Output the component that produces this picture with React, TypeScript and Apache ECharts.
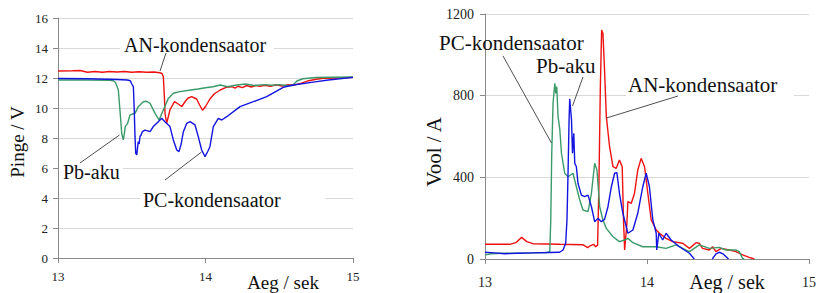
import React, { useEffect, useRef } from "react";
import * as echarts from "echarts";

// Time axis (s) and value ranges
const timeMin = 13;
const timeMax = 15;
const voltMax = 16;
const voltStep = 2;
const currentMax = 1200;
const currentStep = 400;

// Left chart: voltage (V) vs time (s)
const voltAN: [number, number][] = [
  [13.0, 12.47], [13.1, 12.48], [13.15, 12.5], [13.2, 12.38], [13.25, 12.43], [13.3, 12.38],
  [13.35, 12.43], [13.4, 12.4], [13.45, 12.43], [13.5, 12.38], [13.55, 12.42], [13.6, 12.38],
  [13.65, 12.4], [13.69, 12.35], [13.705, 12.3], [13.714, 12.1], [13.72, 11.0], [13.726, 9.6],
  [13.737, 9.0], [13.745, 9.3], [13.76, 9.9], [13.79, 10.42], [13.81, 10.3], [13.839, 10.1],
  [13.86, 10.4], [13.88, 10.65], [13.906, 10.76], [13.94, 10.6], [13.96, 10.2], [13.98, 9.85],
  [14.0, 10.1], [14.03, 10.6], [14.06, 10.95], [14.1, 11.2], [14.14, 11.38], [14.18, 11.42],
  [14.2, 11.33], [14.22, 11.45], [14.25, 11.36], [14.28, 11.5], [14.31, 11.4], [14.34, 11.5],
  [14.37, 11.44], [14.4, 11.52], [14.44, 11.45], [14.48, 11.55], [14.52, 11.47], [14.56, 11.55],
  [14.6, 11.52], [14.65, 11.66], [14.7, 11.82], [14.75, 11.92], [14.8, 11.98], [14.9, 12.0],
  [15.0, 12.04],
];
const voltPC: [number, number][] = [
  [13.0, 11.87], [13.2, 11.87], [13.35, 11.85], [13.375, 11.82], [13.39, 11.7], [13.398, 11.5],
  [13.409, 11.2], [13.42, 9.87], [13.432, 8.3], [13.443, 7.87], [13.45, 8.3], [13.456, 8.76],
  [13.472, 8.98], [13.488, 9.53], [13.505, 9.6], [13.522, 9.64], [13.544, 10.09], [13.578, 10.42],
  [13.6, 10.45], [13.624, 10.31], [13.658, 9.64], [13.685, 9.2], [13.714, 9.87], [13.748, 10.64],
  [13.782, 10.98], [13.827, 11.09], [13.9, 11.2], [13.95, 11.27], [14.0, 11.35], [14.05, 11.42],
  [14.1, 11.53], [14.15, 11.42], [14.2, 11.52], [14.27, 11.6], [14.33, 11.5], [14.4, 11.56],
  [14.45, 11.52], [14.5, 11.56], [14.55, 11.5], [14.59, 11.5], [14.62, 11.8], [14.66, 11.95],
  [14.75, 12.03], [14.85, 12.05], [15.0, 12.07],
];
const voltPb: [number, number][] = [
  [13.0, 11.97], [13.2, 11.95], [13.4, 11.9], [13.47, 11.87], [13.49, 11.82], [13.5, 11.6],
  [13.511, 11.42], [13.517, 9.87], [13.522, 8.09], [13.527, 6.98], [13.534, 6.87], [13.544, 7.76],
  [13.55, 7.6], [13.556, 8.1], [13.563, 8.2], [13.572, 8.42], [13.59, 8.53], [13.624, 8.42],
  [13.646, 8.76], [13.68, 9.09], [13.703, 9.31], [13.725, 9.09], [13.759, 8.76], [13.782, 7.87],
  [13.805, 7.2], [13.82, 7.09], [13.835, 7.6], [13.85, 8.42], [13.873, 8.98], [13.895, 9.09],
  [13.929, 8.87], [13.951, 8.09], [13.974, 7.2], [13.997, 6.76], [14.015, 7.1], [14.03, 7.42],
  [14.053, 8.76], [14.087, 9.31], [14.11, 9.2], [14.144, 9.42], [14.234, 10.09], [14.324, 10.42],
  [14.415, 10.76], [14.527, 11.38], [14.595, 11.53], [14.754, 11.76], [14.833, 11.87], [15.0, 12.04],
];

// Right chart: current (A) vs time (s)
const currentAN: [number, number][] = [
  [13.0, 72], [13.154, 72], [13.19, 80], [13.226, 106], [13.258, 85], [13.295, 75], [13.46, 72],
  [13.603, 70], [13.634, 56], [13.652, 66], [13.67, 72], [13.683, 60], [13.695, 68], [13.703, 354],
  [13.712, 844], [13.72, 1121], [13.728, 1105], [13.738, 926], [13.749, 697], [13.769, 550],
  [13.79, 452], [13.81, 444], [13.83, 485], [13.847, 452], [13.855, 191], [13.862, 44],
  [13.876, 175], [13.882, 281], [13.903, 273], [13.923, 322], [13.943, 436], [13.964, 493],
  [13.985, 452], [14.005, 322], [14.026, 191], [14.057, 142], [14.077, 126], [14.118, 101],
  [14.159, 85], [14.22, 77], [14.262, 52], [14.303, 80], [14.323, 77], [14.343, 52], [14.385, 44],
  [14.405, 60], [14.426, 36], [14.457, 52], [14.508, 44], [14.549, 36], [14.59, 20], [14.631, 8],
  [14.663, 0],
];
const currentPC: [number, number][] = [
  [13.0, 20], [13.04, 26], [13.1, 28], [13.2, 28], [13.3, 30], [13.38, 32], [13.4, 36],
  [13.406, 191], [13.412, 518], [13.42, 763], [13.431, 860], [13.437, 811], [13.443, 844],
  [13.451, 697], [13.462, 632], [13.472, 518], [13.492, 420], [13.513, 403], [13.543, 420],
  [13.564, 354], [13.585, 289], [13.605, 240], [13.636, 232], [13.657, 322], [13.677, 469],
  [13.691, 436], [13.708, 256], [13.728, 191], [13.749, 150], [13.79, 109], [13.83, 85],
  [13.862, 93], [13.882, 101], [13.913, 80], [13.974, 60], [14.057, 60], [14.118, 52],
  [14.18, 69], [14.241, 44], [14.262, 36], [14.323, 69], [14.385, 52], [14.446, 57],
  [14.487, 44], [14.549, 44], [14.569, 36], [14.59, 3], [14.6, 0],
];
const currentPb: [number, number][] = [
  [13.0, 33], [13.06, 30], [13.12, 26], [13.2, 28], [13.3, 30], [13.4, 32], [13.46, 33],
  [13.482, 44], [13.498, 77], [13.506, 191], [13.513, 436], [13.519, 681], [13.523, 784],
  [13.534, 681], [13.54, 518], [13.548, 616], [13.554, 469], [13.564, 452], [13.574, 371],
  [13.595, 313], [13.615, 305], [13.636, 313], [13.657, 256], [13.677, 183], [13.697, 199],
  [13.718, 183], [13.738, 194], [13.759, 256], [13.78, 354], [13.8, 420], [13.814, 423],
  [13.83, 322], [13.851, 224], [13.882, 126], [13.913, 142], [13.943, 224], [13.974, 354],
  [13.995, 420], [14.015, 354], [14.036, 191], [14.057, 126], [14.06, 44], [14.073, 126],
  [14.097, 93], [14.118, 126], [14.149, 93], [14.2, 60], [14.262, 28], [14.292, 0],
];
const currentPbTail: [number, number][] = [
  [14.403, 0], [14.426, 25], [14.446, 33], [14.47, 25], [14.503, 0],
];

const labelAN = "AN-kondensaator";
const labelPC = "PC-kondensaator";
const labelPb = "Pb-aku";
const titleVolt = "Pinge / V";
const titleCurrent = "Vool / A";
const titleTime = "Aeg / sek";

const RED = "#ee1111";
const GREEN = "#3a9a6a";
const BLUE = "#1414e0";
const SERIF = "'Liberation Serif', 'Times New Roman', serif";

export default function App() {
  const ref = useRef<HTMLDivElement>(null);
  useEffect(() => {
    if (!ref.current) return;
    const chart = echarts.init(ref.current, null, { renderer: "svg" });
    const axisLine = { show: true, lineStyle: { color: "#8a8a8a", width: 1 } };
    const axisTick = { show: true, length: 5, lineStyle: { color: "#8a8a8a" } };
    const split = { show: true, lineStyle: { color: "#d9d9d9", width: 1 } };
    const plain = (v: number) => String(v);
    const line = (xi: number, data: any[], color: string) => ({
      type: "line",
      xAxisIndex: xi,
      yAxisIndex: xi,
      data,
      showSymbol: false,
      symbol: "none",
      lineStyle: { color, width: 1.4 },
      itemStyle: { color },
    });
    const txt = (x: number, y: number, text: string, size: number) => ({
      type: "text",
      x,
      y,
      z: 101,
      style: { text, fontFamily: SERIF, fontSize: size, fill: "#111", align: "left", verticalAlign: "middle" },
    });
    const ln = (x1: number, y1: number, x2: number, y2: number) => ({
      type: "line",
      z: 102,
      shape: { x1, y1, x2, y2 },
      style: { stroke: "#222", lineWidth: 0.8 },
    });
    const box = (x: number, y: number, width: number, height: number) => ({
      type: "rect",
      z: 100,
      shape: { x, y, width, height },
      style: { fill: "#fff" },
    });
    chart.setOption({
      animation: false,
      backgroundColor: "#fff",
      grid: [
        { left: 58, top: 18, width: 295, height: 240 },
        { left: 485, top: 14, width: 326, height: 245 },
      ],
      xAxis: [
        {
          type: "value", gridIndex: 0, min: timeMin, max: timeMax, interval: 1,
          axisLine, axisTick, splitLine: { show: false },
          axisLabel: { fontFamily: SERIF, fontSize: 13, color: "#222", margin: 12, formatter: plain },
        },
        {
          type: "value", gridIndex: 1, min: timeMin, max: timeMax, interval: 1,
          axisLine, axisTick, splitLine: { show: false },
          axisLabel: { fontFamily: SERIF, fontSize: 14, color: "#222", margin: 16, formatter: plain },
        },
      ],
      yAxis: [
        {
          type: "value", gridIndex: 0, min: 0, max: voltMax, interval: voltStep,
          axisLine, axisTick, splitLine: split,
          axisLabel: { fontFamily: SERIF, fontSize: 13, color: "#222", margin: 10, formatter: plain },
        },
        {
          type: "value", gridIndex: 1, min: 0, max: currentMax, interval: currentStep,
          axisLine, axisTick, splitLine: split,
          axisLabel: { fontFamily: SERIF, fontSize: 14, color: "#222", margin: 11, formatter: plain },
        },
      ],
      series: [
        line(0, voltAN, RED),
        line(0, voltPC, GREEN),
        line(0, voltPb, BLUE),
        line(1, currentAN, RED),
        line(1, currentPC, GREEN),
        line(1, currentPb, BLUE),
        line(1, currentPbTail, BLUE),
      ],
      graphic: [
        // left chart annotations
        box(120, 35, 154, 23),
        txt(124, 45, labelAN, 20),
        ln(160, 71, 166, 53),
        box(59, 161, 64, 22),
        txt(63, 172, labelPb, 20),
        ln(80, 163, 119.5, 135),
        box(140, 189, 185, 21),
        txt(143, 200, labelPC, 20),
        ln(165, 180, 201.5, 152),
        // right chart annotations
        txt(439, 43, labelPC, 21),
        ln(503, 56, 551.5, 143),
        txt(536, 66, labelPb, 21),
        ln(583, 77, 572.5, 106),
        box(626, 73, 168, 24),
        txt(628, 85, labelAN, 21),
        ln(678, 96, 606.5, 118),
        // axis titles
        {
          type: "text", x: 17.5, y: 142, rotation: Math.PI / 2, z: 101,
          style: { text: titleVolt, fontFamily: SERIF, fontSize: 19, fill: "#111", align: "center", verticalAlign: "middle" },
        },
        {
          type: "text", x: 434, y: 152, rotation: Math.PI / 2, z: 101,
          style: { text: titleCurrent, fontFamily: SERIF, fontSize: 21, fill: "#111", align: "center", verticalAlign: "middle" },
        },
        {
          type: "text", x: 283, y: 282, z: 101,
          style: { text: titleTime, fontFamily: SERIF, fontSize: 19, fill: "#111", align: "center", verticalAlign: "middle" },
        },
        {
          type: "text", x: 727, y: 282, z: 101,
          style: { text: titleTime, fontFamily: SERIF, fontSize: 20, fill: "#111", align: "center", verticalAlign: "middle" },
        },
      ],
    });
    return () => chart.dispose();
  }, []);
  return (
    <div
      ref={ref}
      style={{ position: "fixed", left: 0, top: 0, width: 819, height: 293, background: "#fff" }}
    />
  );
}
